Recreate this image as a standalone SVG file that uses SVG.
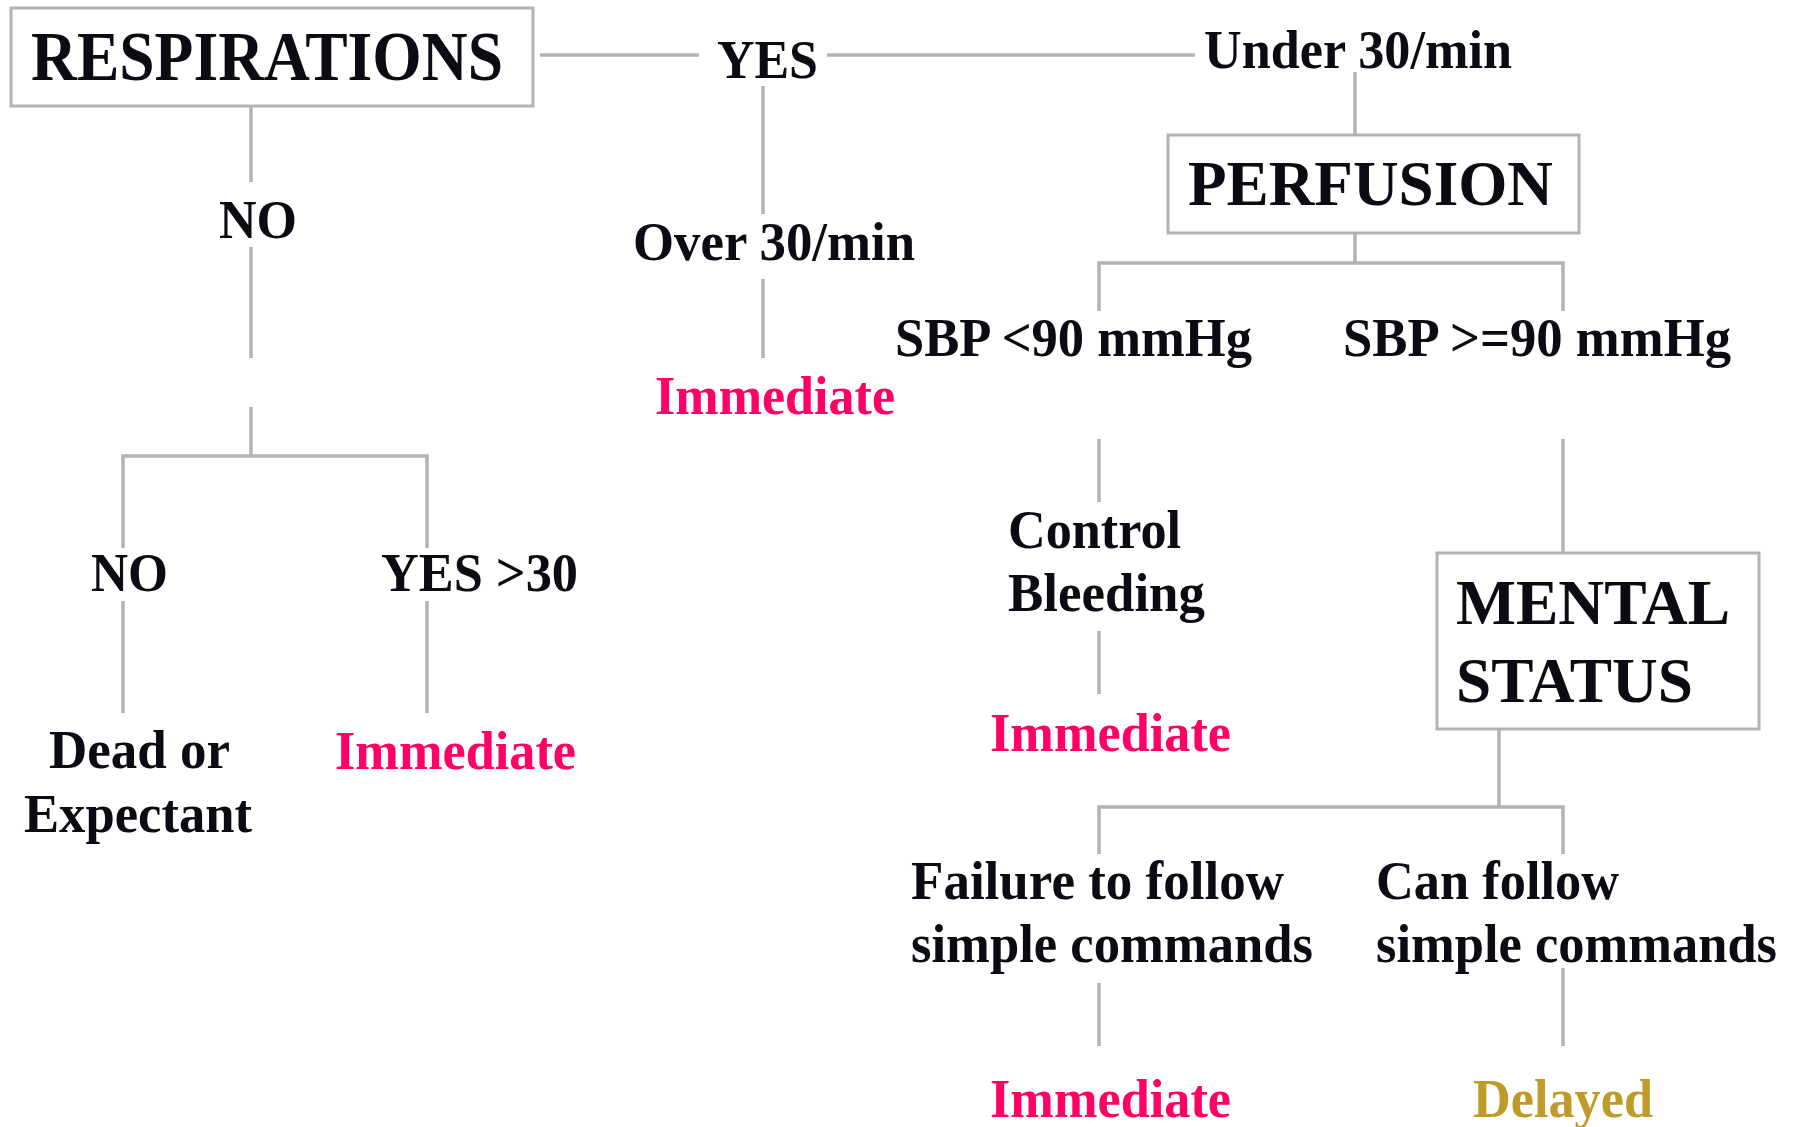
<svg xmlns="http://www.w3.org/2000/svg" width="1798" height="1127" viewBox="0 0 1798 1127">
<style>
.bg{fill:#ffffff}
.box{fill:#ffffff;stroke:#b3b3b3;stroke-width:3}
.ln{stroke:#b3b3b3;stroke-width:3.5;fill:none}
text{font-family:"Liberation Serif","Times New Roman",serif;font-weight:bold;fill:#0b0b14}
.t{font-size:54px}
.big{font-size:64px}
.imm{fill:#ff0066}
.del{fill:#bf9c2a}
</style>
<rect class="bg" x="0" y="0" width="1798" height="1127"/>
<g id="connectors">
<path class="ln" d="M540 55H699"/>
<path class="ln" d="M827 55H1195"/>
<path class="ln" d="M763 86V214"/>
<path class="ln" d="M763 279V358"/>
<path class="ln" d="M1355 72V135"/>
<path class="ln" d="M1355 233V263"/>
<path class="ln" d="M1099 311V263H1563V311"/>
<path class="ln" d="M1099 439V502"/>
<path class="ln" d="M1099 631V694"/>
<path class="ln" d="M1563 439V553"/>
<path class="ln" d="M1499 729V807"/>
<path class="ln" d="M1099 854V807H1563V854"/>
<path class="ln" d="M1099 983V1046"/>
<path class="ln" d="M1563 968V1046"/>
<path class="ln" d="M251 106V182"/>
<path class="ln" d="M251 247V358"/>
<path class="ln" d="M251 407V456"/>
<path class="ln" d="M123 548V456H427V548"/>
<path class="ln" d="M123 601V713"/>
<path class="ln" d="M427 601V713"/>
</g>
<g id="respirations">
<rect class="box" x="11" y="8" width="522" height="98"/>
<text x="31" y="80" style="font-size:69px" textLength="472" lengthAdjust="spacingAndGlyphs">RESPIRATIONS</text>
</g>
<g id="yes"><text class="t" x="717" y="78" textLength="101" lengthAdjust="spacingAndGlyphs">YES</text></g>
<g id="under30"><text class="t" x="1204" y="68" textLength="308" lengthAdjust="spacingAndGlyphs">Under 30/min</text></g>
<g id="over30"><text class="t" x="633" y="260" textLength="282" lengthAdjust="spacingAndGlyphs">Over 30/min</text></g>
<g id="immediate1"><text class="t imm" x="655" y="414" textLength="240" lengthAdjust="spacingAndGlyphs">Immediate</text></g>
<g id="perfusion">
<rect class="box" x="1168" y="135" width="411" height="98"/>
<text x="1188" y="205" style="font-size:63px" textLength="365" lengthAdjust="spacingAndGlyphs">PERFUSION</text>
</g>
<g id="sbp-low"><text class="t" x="895" y="356" textLength="357" lengthAdjust="spacingAndGlyphs">SBP &lt;90 mmHg</text></g>
<g id="sbp-high"><text class="t" x="1343" y="356" textLength="388" lengthAdjust="spacingAndGlyphs">SBP &gt;=90 mmHg</text></g>
<g id="control-bleeding">
<text class="t" x="1008" y="548" textLength="173" lengthAdjust="spacingAndGlyphs">Control</text>
<text class="t" x="1008" y="611" textLength="197" lengthAdjust="spacingAndGlyphs">Bleeding</text>
</g>
<g id="immediate2"><text class="t imm" x="990" y="751" textLength="241" lengthAdjust="spacingAndGlyphs">Immediate</text></g>
<g id="mental-status">
<rect class="box" x="1437" y="553" width="322" height="176"/>
<text class="big" x="1456" y="624" textLength="274" lengthAdjust="spacingAndGlyphs">MENTAL</text>
<text class="big" x="1456" y="702" textLength="237" lengthAdjust="spacingAndGlyphs">STATUS</text>
</g>
<g id="failure">
<text class="t" x="911" y="899" textLength="373" lengthAdjust="spacingAndGlyphs">Failure to follow</text>
<text class="t" x="911" y="962" textLength="402" lengthAdjust="spacingAndGlyphs">simple commands</text>
</g>
<g id="can-follow">
<text class="t" x="1376" y="899" textLength="243" lengthAdjust="spacingAndGlyphs">Can follow</text>
<text class="t" x="1376" y="962" textLength="401" lengthAdjust="spacingAndGlyphs">simple commands</text>
</g>
<g id="immediate3"><text class="t imm" x="990" y="1117" textLength="241" lengthAdjust="spacingAndGlyphs">Immediate</text></g>
<g id="delayed"><text class="t del" x="1473" y="1117" textLength="180" lengthAdjust="spacingAndGlyphs">Delayed</text></g>
<g id="no-top"><text class="t" x="219" y="238" textLength="78" lengthAdjust="spacingAndGlyphs">NO</text></g>
<g id="no-left"><text class="t" x="91" y="591" textLength="77" lengthAdjust="spacingAndGlyphs">NO</text></g>
<g id="yes30"><text class="t" x="381" y="591" textLength="197" lengthAdjust="spacingAndGlyphs">YES &gt;30</text></g>
<g id="dead-expectant">
<text class="t" x="49" y="768" textLength="181" lengthAdjust="spacingAndGlyphs">Dead or</text>
<text class="t" x="24" y="832" textLength="228" lengthAdjust="spacingAndGlyphs">Expectant</text>
</g>
<g id="immediate0"><text class="t imm" x="335" y="769" textLength="241" lengthAdjust="spacingAndGlyphs">Immediate</text></g>
</svg>
